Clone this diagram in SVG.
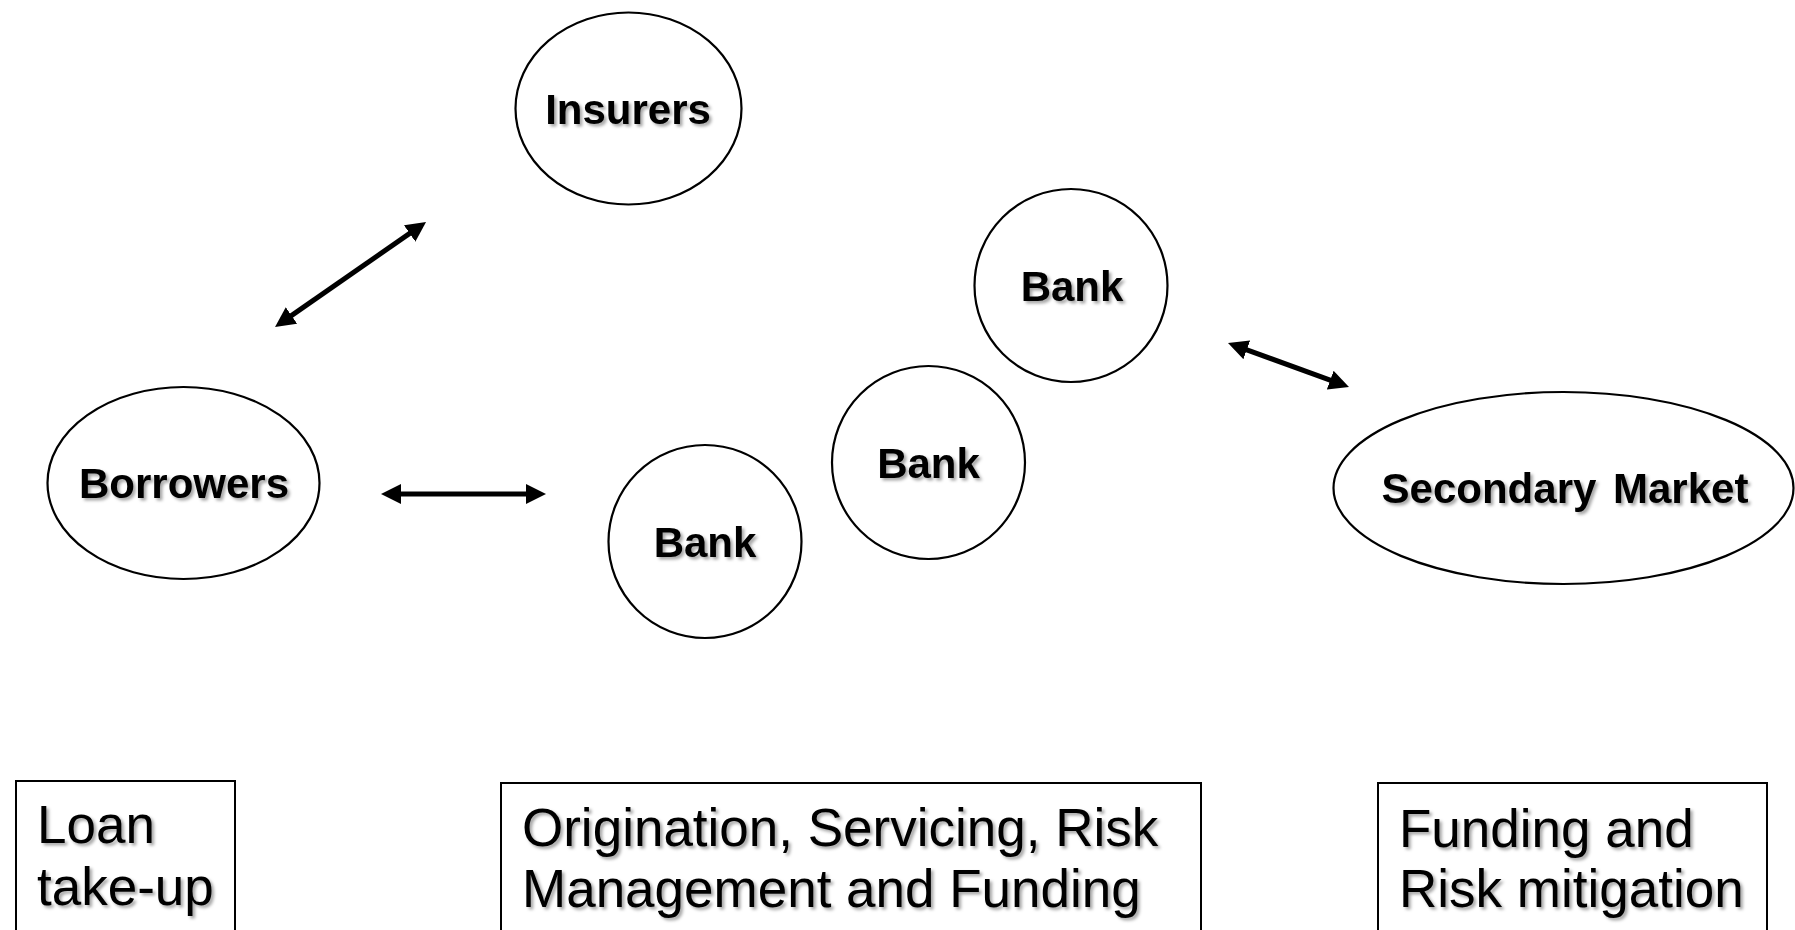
<svg xmlns="http://www.w3.org/2000/svg" width="1795" height="930" viewBox="0 0 1795 930">
  <defs>
    <filter id="txtShadow" x="-10%" y="-30%" width="130%" height="170%">
      <feDropShadow dx="2.5" dy="2.5" stdDeviation="1.6" flood-color="#000" flood-opacity="0.35"/>
    </filter>
    <marker id="head" viewBox="0 0 20 20" markerWidth="20" markerHeight="20" refX="8" refY="10" orient="auto-start-reverse" markerUnits="userSpaceOnUse">
      <path d="M0,0 L20,10 L0,20 z" fill="#000"/>
    </marker>
  </defs>
  <style>
    .node { fill: #fff; stroke: #000; stroke-width: 2.2; }
    .label { font-family: "Liberation Sans", Arial, sans-serif; font-weight: bold; font-size: 42px; fill: #000; text-anchor: middle; filter: url(#txtShadow); }
    .box { fill: #fff; stroke: #000; stroke-width: 2; }
    .boxtext { font-family: "Liberation Sans", Arial, sans-serif; font-size: 53px; fill: #000; filter: url(#txtShadow); }
    .link { stroke: #000; stroke-width: 5; fill: none; marker-start: url(#head); marker-end: url(#head); }
  </style>
  <rect width="1795" height="930" fill="#fff"/>

  <!-- connectors -->
  <g id="connectors">
    <line class="link" x1="284.9" y1="320.1" x2="416.2" y2="228.9"/>
    <line class="link" x1="393" y1="494" x2="534" y2="494"/>
    <line class="link" x1="1239.3" y1="347.1" x2="1337.7" y2="382.9"/>
  </g>

  <g id="insurers">
    <ellipse class="node" cx="628.5" cy="108.5" rx="113" ry="96"/>
    <text class="label" x="628" y="124">Insurers</text>
  </g>

  <g id="borrowers">
    <ellipse class="node" cx="183.5" cy="483" rx="136" ry="96"/>
    <text class="label" x="184" y="498">Borrowers</text>
  </g>

  <g id="bank-1">
    <circle class="node" cx="705" cy="541.5" r="96.5"/>
    <text class="label" x="705" y="557">Bank</text>
  </g>

  <g id="bank-2">
    <circle class="node" cx="928.5" cy="462.5" r="96.5"/>
    <text class="label" x="928.5" y="478">Bank</text>
  </g>

  <g id="bank-3">
    <circle class="node" cx="1071" cy="285.5" r="96.5"/>
    <text class="label" x="1072" y="301">Bank</text>
  </g>

  <g id="secondary-market">
    <ellipse class="node" cx="1563.5" cy="488" rx="230" ry="96"/>
    <text class="label" x="1565" y="503" word-spacing="5">Secondary Market</text>
  </g>

  <!-- stage captions along the bottom -->
  <g id="stage-loan">
    <rect class="box" x="16" y="781" width="219" height="160"/>
    <text class="boxtext" x="37" y="843">Loan</text>
    <text class="boxtext" x="37" y="905">take-up</text>
  </g>

  <g id="stage-origination">
    <rect class="box" x="501" y="783" width="700" height="160"/>
    <text class="boxtext" x="522" y="846">Origination, Servicing, Risk</text>
    <text class="boxtext" x="522" y="907">Management and Funding</text>
  </g>

  <g id="stage-funding">
    <rect class="box" x="1378" y="783" width="389" height="160"/>
    <text class="boxtext" x="1399" y="847">Funding and</text>
    <text class="boxtext" x="1399" y="907">Risk mitigation</text>
  </g>
</svg>
